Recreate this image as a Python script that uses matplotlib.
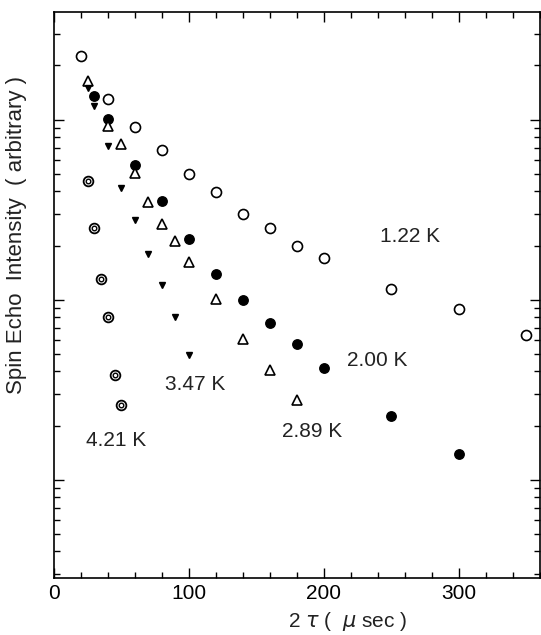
import matplotlib
matplotlib.use("Agg")
import matplotlib.pyplot as plt
from matplotlib.ticker import MultipleLocator, LogLocator, NullFormatter

plt.rcParams["font.family"] = ["Liberation Sans", "DejaVu Sans"]

# 1.22 K (open circles)
t_122 = [20, 40, 60, 80, 100, 120, 140, 160, 180, 200, 250, 300, 350]
i_122 = [224.9, 130.3, 90.6, 68.1, 50.1, 39.8, 30.1, 25.0, 20.0, 17.0, 11.5, 8.9, 6.4]

# 2.00 K (filled circles)
t_200 = [30, 40, 60, 80, 100, 120, 140, 160, 180, 200, 250, 300]
i_200 = [134.9, 100.9, 55.7, 35.2, 21.8, 13.9, 10.0, 7.4, 5.7, 4.2, 2.25, 1.39]

# 2.89 K (open triangles)
t_289 = [25, 40, 50, 60, 70, 80, 90, 100, 120, 140, 160, 180]
i_289 = [163.3, 91.8, 73.6, 50.6, 34.9, 26.4, 21.1, 16.3, 10.1, 6.07, 4.08, 2.78]

# 3.47 K (small filled down triangles)
t_347 = [25, 30, 40, 50, 60, 70, 80, 90, 100]
i_347 = [150.0, 119.7, 71.1, 41.7, 27.8, 18.0, 12.0, 8.0, 4.94]

# 4.21 K (double circles)
t_421 = [25, 30, 35, 40, 45, 50]
i_421 = [45.4, 25.0, 13.1, 8.0, 3.8, 2.59]

labels = ["1.22 K", "2.00 K", "2.89 K", "3.47 K", "4.21 K"]
label_pos = [(241.5, 22.4), (216.8, 4.6), (168.7, 1.86), (82.2, 3.37), (23.7, 1.65)]

fig = plt.figure(figsize=(5.41, 6.35), dpi=100)
ax = fig.add_axes([0.0998, 0.0898, 0.898, 0.892])

ax.plot(t_122, i_122, "o", ms=7.2, mfc="white", mec="black", mew=1.2, ls="none")
ax.plot(t_200, i_200, "o", ms=6.8, mfc="black", mec="black", ls="none")
ax.plot(t_289, i_289, "^", ms=7.5, mfc="white", mec="black", mew=1.2, ls="none")
ax.plot(t_347, i_347, "v", ms=4.2, mfc="black", mec="black", ls="none")
ax.plot(t_421, i_421, "o", ms=7.0, mfc="white", mec="black", mew=1.3, ls="none")
ax.plot(t_421, i_421, "o", ms=3.3, mfc="white", mec="black", mew=1.0, ls="none")

for text, (x, y) in zip(labels, label_pos):
    ax.text(x, y, text, fontsize=15, ha="left", va="center", color="#222222")

ax.set_yscale("log")
ax.set_xlim(0, 360)
ax.set_ylim(10 ** -0.545, 10 ** 2.60)

ax.xaxis.set_major_locator(MultipleLocator(100))
ax.xaxis.set_minor_locator(MultipleLocator(20))
ax.yaxis.set_major_locator(LogLocator(base=10))
ax.yaxis.set_minor_locator(LogLocator(base=10, subs=range(2, 10)))
ax.yaxis.set_major_formatter(NullFormatter())
ax.yaxis.set_minor_formatter(NullFormatter())

ax.tick_params(which="both", direction="in", top=True, right=True, width=1.0)
ax.tick_params(which="major", length=7, labelsize=15, pad=4)
ax.tick_params(which="minor", length=4.5)
for spine in ax.spines.values():
    spine.set_linewidth(1.2)

ax.set_xlabel("2 $\\tau$ (  $\\mu$ sec )", fontsize=15, color="#222222")
ax.xaxis.set_label_coords(0.605, -0.056)
ax.set_ylabel("Spin Echo  Intensity  ( arbitrary )", fontsize=16, color="#222222")
ax.yaxis.set_label_coords(-0.056, 0.606)

fig.savefig("out.png", dpi=100)
